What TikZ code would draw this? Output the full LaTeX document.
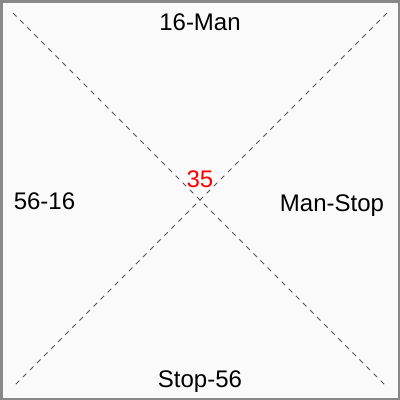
\documentclass[tikz,border=0pt]{standalone}
\usepackage{fontspec}
\setmainfont{Liberation Sans}
\definecolor{framegray}{HTML}{888888}
\definecolor{paper}{HTML}{FAFAFA}
\definecolor{diaggray}{HTML}{555555}
\begin{document}
\begin{tikzpicture}[x=1pt, y=-1pt,
    label text/.style={font=\fontsize{24}{28}\selectfont, anchor=base, inner sep=0pt},
    diag line/.style={diaggray, line width=0.9pt, dash pattern=on 5pt off 5pt}]
    % frame and page
    \useasboundingbox (0,0) rectangle (400,400);
    \draw[framegray, fill=paper, line width=2.5pt] (1.25,1.25) rectangle (398.75,398.75);
    % corners of the cross
    \coordinate (nw) at (13,13);
    \coordinate (ne) at (387,13);
    \coordinate (sw) at (13,387);
    \coordinate (se) at (387,387);
    \draw[diag line] (nw) -- (se);
    \draw[diag line] (ne) -- (sw);
    % the four sides and the centre value
    \node[label text] (top) at (200,30) {16-Man};
    \node[label text] (left) at (44.5,209.3) {56-16};
    \node[label text] (right) at (332,211.7) {Man-Stop};
    \node[label text] (bottom) at (200,387) {Stop-56};
    \node[label text, red] (centre) at (200,187) {35};
\end{tikzpicture}
\end{document}
